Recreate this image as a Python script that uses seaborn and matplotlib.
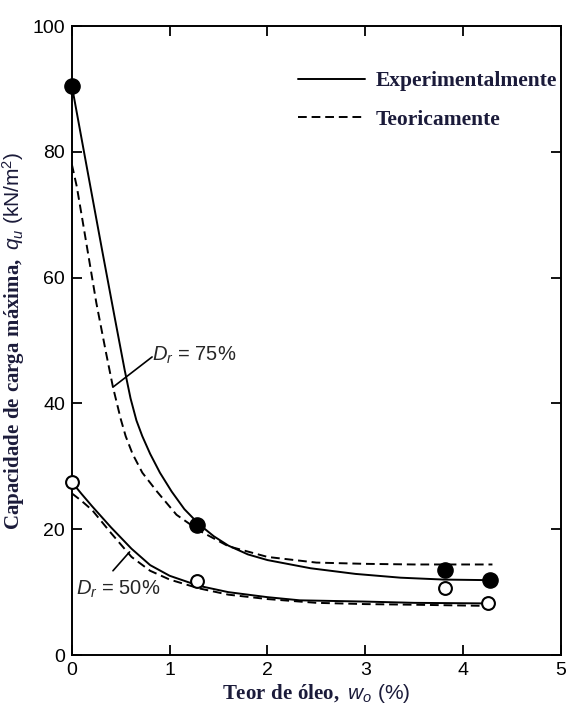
import matplotlib
matplotlib.use("Agg")
import matplotlib.pyplot as plt
import seaborn as sns

# Measured points (oil content %, ultimate bearing capacity kN/m2)
pts_x_75 = [0.0, 1.28, 3.82, 4.27]
pts_y_75 = [90.5, 20.7, 13.5, 11.9]
pts_x_50 = [0.0, 1.28, 3.82, 4.25]
pts_y_50 = [27.5, 11.8, 10.7, 8.3]

# Experimental curves
exp75_x = [0.0, 0.15, 0.31, 0.44, 0.54, 0.6, 0.66, 0.72, 0.8, 0.9, 1.02, 1.15, 1.3,
           1.45, 1.6, 1.8, 2.0, 2.44, 2.9, 3.36, 3.8, 4.3]
exp75_y = [90.5, 77.8, 64.3, 53.5, 45.3, 40.8, 37.3, 34.8, 32.0, 29.0, 26.0, 23.2, 20.8,
           18.9, 17.4, 16.0, 15.1, 13.8, 12.9, 12.3, 12.0, 11.9]
exp50_x = [0.0, 0.1, 0.21, 0.4, 0.61, 0.8, 1.0, 1.3, 1.6, 2.0, 2.33, 3.0, 3.5, 4.3]
exp50_y = [27.5, 25.6, 23.6, 20.3, 16.9, 14.3, 12.6, 11.0, 10.0, 9.2, 8.7, 8.5, 8.3, 8.2]

# Theoretical curves
teo75_x = [0.0, 0.05, 0.11, 0.18, 0.25, 0.35, 0.42, 0.5, 0.55, 0.62, 0.72, 0.87,
           1.07, 1.3, 1.6, 2.0, 2.5, 3.0, 3.5, 4.3]
teo75_y = [78.0, 74.5, 69.0, 62.5, 56.0, 48.0, 42.6, 37.5, 34.8, 32.0, 29.0, 26.0,
           22.3, 19.8, 17.3, 15.6, 14.7, 14.5, 14.4, 14.4]
teo50_x = [0.0, 0.1, 0.21, 0.4, 0.61, 0.8, 1.0, 1.3, 1.6, 2.0, 2.5, 3.0, 3.5, 4.3]
teo50_y = [25.7, 24.5, 23.0, 19.4, 15.6, 13.4, 12.0, 10.6, 9.6, 8.9, 8.3, 8.1, 8.0, 7.8]

x_ticks = [0, 1, 2, 3, 4, 5]
y_ticks = [0, 20, 40, 60, 80, 100]

sns.set_style("ticks")
plt.rcParams["font.family"] = ["Liberation Sans", "DejaVu Sans"]
plt.rcParams["mathtext.fontset"] = "custom"
plt.rcParams["mathtext.rm"] = "Liberation Sans"
plt.rcParams["mathtext.it"] = "Liberation Sans:italic"
plt.rcParams["mathtext.bf"] = "Liberation Serif:bold"

label_color = "#1b1b3a"
dash = (0, (4.5, 2.5))

fig = plt.figure(figsize=(5.66, 7.07), dpi=100)
ax = fig.add_axes([0.127, 0.0735, 0.864, 0.8895])

line_kw = dict(color="black", linewidth=1.4, sort=False, legend=False, ax=ax)
sns.lineplot(x=exp75_x, y=exp75_y, **line_kw)
sns.lineplot(x=exp50_x, y=exp50_y, **line_kw)
sns.lineplot(x=teo75_x, y=teo75_y, linestyle=dash, **line_kw)
sns.lineplot(x=teo50_x, y=teo50_y, linestyle=dash, **line_kw)

sns.scatterplot(x=pts_x_75, y=pts_y_75, s=120, color="black", edgecolor="black",
                linewidth=1, zorder=5, clip_on=False, ax=ax)
sns.scatterplot(x=pts_x_50, y=pts_y_50, s=85, facecolor="white", edgecolor="black",
                linewidth=1.5, zorder=5, clip_on=False, ax=ax)

# Legend drawn from proxy lines
ax.plot([], [], color="black", lw=1.4, label="Experimentalmente")
ax.plot([], [], color="black", lw=1.4, ls=dash, label="Teoricamente")
leg = ax.legend(loc="upper right", bbox_to_anchor=(1.031, 0.959), frameon=False,
                handlelength=3.1, handletextpad=0.5, labelspacing=0.85,
                prop={"family": "Liberation Serif", "weight": "bold", "size": 15.5})
for t in leg.get_texts():
    t.set_color(label_color)

# Relative density labels with leader lines
ax.plot([0.42, 0.82], [42.6, 47.4], color="black", lw=1.2)
ax.text(0.82, 47.7, r"$D_r$ = 75%", fontsize=14.5, va="center", ha="left")
ax.plot([0.42, 0.59], [13.4, 16.4], color="black", lw=1.2)
ax.text(0.04, 10.5, r"$D_r$ = 50%", fontsize=14.5, va="center", ha="left")

ax.set_xlim(0, 5)
ax.set_ylim(0, 100)
ax.set_xticks(x_ticks)
ax.set_yticks(y_ticks)
ax.tick_params(direction="in", length=7, width=1.3, top=True, right=True,
               labelsize=14, pad=5, colors="black")
for s in ax.spines.values():
    s.set_linewidth(1.4)
    s.set_color("black")

ax.set_xlabel(r"$\mathbf{Teor\ de\ óleo,}\ w_o\ \mathrm{(\%)}$", fontsize=15,
              color=label_color, labelpad=2)
ax.set_ylabel(r"$\mathbf{Capacidade\ de\ carga\ máxima,}\ q_u\ \mathrm{(kN/m^2)}$",
              fontsize=15, color=label_color, labelpad=4)

fig.savefig("out.png", dpi=100)
